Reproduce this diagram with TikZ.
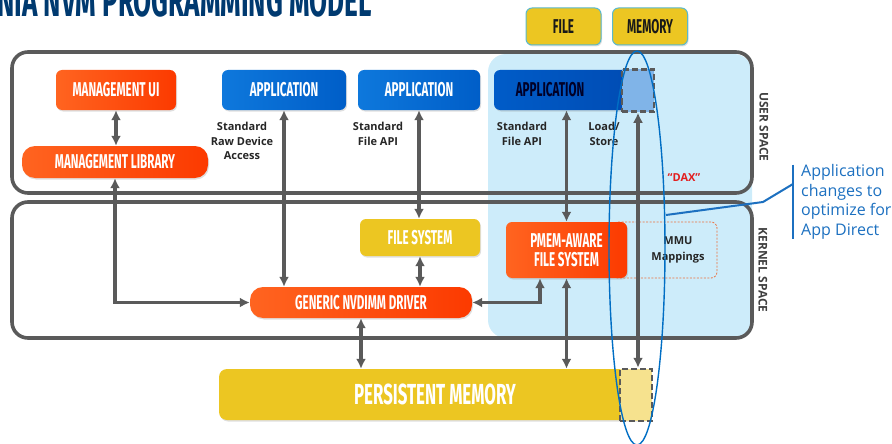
\documentclass[tikz,border=0pt]{standalone}
\usepackage{fontspec}
\setmainfont{Open Sans}
\newfontfamily\condfont[FakeStretch=0.58]{Fira Sans}
\usetikzlibrary{arrows.meta}
\usetikzlibrary{shadows}
\definecolor{linegray}{RGB}{90,90,90}
\definecolor{titleblue}{RGB}{0,58,112}
\definecolor{myorangeL}{RGB}{255,100,32}
\definecolor{myorangeR}{RGB}{252,58,0}
\definecolor{myblueL}{RGB}{14,120,220}
\definecolor{myblueR}{RGB}{0,94,200}
\definecolor{mydarkblueL}{RGB}{0,92,200}
\definecolor{mydarkblueR}{RGB}{0,76,180}
\definecolor{myyellow}{RGB}{236,198,34}
\definecolor{mylightyellow}{RGB}{246,226,142}
\definecolor{mylightblue}{RGB}{205,236,250}
\definecolor{mysquareblue}{RGB}{128,180,232}
\definecolor{myellipse}{RGB}{0,110,196}
\definecolor{mycallout}{RGB}{28,112,192}
\definecolor{mydaxred}{RGB}{226,30,30}
\definecolor{mymmuorange}{RGB}{236,112,62}
\definecolor{myteal}{RGB}{90,185,205}
\definecolor{mylabel}{RGB}{38,38,38}
\newcommand{\boxfont}{\condfont\bfseries\fontsize{20}{19}\selectfont}
\newcommand{\pmfont}{\condfont\bfseries\fontsize{29}{29}\selectfont}
\newcommand{\apifont}{\bfseries\fontsize{11}{14.5}\selectfont}
\tikzset{
    common/.style={inner sep=0pt, align=center, font=\boxfont, text=white,
        drop shadow={opacity=0.25, shadow xshift=1pt, shadow yshift=-1.5pt}},
    orangebox/.style={common, rounded corners=6pt, left color=myorangeL, right color=myorangeR},
    pill/.style={rounded corners=13pt},
    bluebox/.style={common, rounded corners=6pt, left color=myblueL, right color=myblueR,
        minimum width=124pt, minimum height=40pt},
    darkbluebox/.style={common, rounded corners=6pt, left color=mydarkblueL, right color=mydarkblueR,
        minimum height=40pt},
    apptext/.style={inner sep=0pt, font=\boxfont, text=black!85!blue},
    yellowbox/.style={common, rounded corners=6pt, fill=myyellow},
    tagbox/.style={common, rounded corners=6pt, fill=myyellow, draw=myteal, line width=1pt,
        text=black!90, minimum width=75pt, minimum height=37pt},
    dashsq/.style={draw=linegray, line width=2.5pt, dash pattern=on 6pt off 3pt, inner sep=0pt},
    mmubox/.style={draw=mymmuorange, line width=0.8pt, dash pattern=on 2pt off 1.5pt,
        rounded corners=6pt, inner sep=0pt},
    mmutext/.style={inner sep=0pt, align=center, font=\bfseries\fontsize{11}{16}\selectfont, text=mylabel},
    space/.style={draw=linegray, line width=3.6pt, rounded corners=16pt, inner sep=0pt},
    spacelabel/.style={rotate=-90, inner sep=0pt, font=\bfseries\fontsize{12}{12}\selectfont, text=black!75},
    apilabel/.style={inner sep=0pt, align=center, font=\apifont, text=mylabel},
    title/.style={anchor=base west, inner sep=0pt, font=\condfont\bfseries\fontsize{45}{45}\selectfont, text=titleblue},
    callout/.style={anchor=west, inner sep=0pt, align=left, font=\fontsize{16}{19.5}\selectfont, text=mycallout},
    conn/.style={draw=linegray, line width=3.2pt, >={Latex[length=10pt,width=10pt]}}
}

\begin{document}
\begin{tikzpicture}[x=1pt, y=-1pt]
    \path[use as bounding box, clip] (0,0) rectangle (892,444);

    \node[title] (title) at (-3,17) {NIA NVM PROGRAMMING MODEL};

    % app direct region
    \fill[mylightblue, rounded corners=18pt] (488,54) rectangle (752,338);

    \node[space, minimum width=740pt, minimum height=141pt] (user) at (382,122.5) {};
    \node[space, minimum width=740pt, minimum height=136pt] (kernel) at (382,270) {};
    \node[spacelabel] (userlbl) at (764,127) {USER SPACE};
    \node[spacelabel] (kernellbl) at (763,270) {KERNEL SPACE};

    \node[tagbox] (file) at (563.5,26.5) {FILE};
    \node[tagbox] (memory) at (650,26.5) {MEMORY};

    % user space
    \node[orangebox, minimum width=120pt, minimum height=40pt] (mui) at (116,90) {MANAGEMENT UI};
    \node[orangebox, pill, minimum width=186pt, minimum height=32pt] (mlib) at (115,162) {MANAGEMENT LIBRARY};
    \node[bluebox] (app1) at (284,90) {APPLICATION};
    \node[bluebox, minimum width=122pt] (app2) at (419,90) {APPLICATION};
    \node[darkbluebox, minimum width=136pt,
          label={[apptext, xshift=-12pt]center:APPLICATION}] (app3) at (562,90) {};
    \node[dashsq, fill=mysquareblue, minimum width=32pt, minimum height=42pt] (appsq) at (638,90.5) {};

    \node[apilabel] (rawlbl) at (242,141) {Standard\\Raw Device\\Access};
    \node[apilabel] (apilbl) at (378,134) {Standard\\File API};
    \node[apilabel] (pmapilbl) at (522,134) {Standard\\File API};
    \node[apilabel] (lslbl) at (604,134) {Load/\\Store};
    \node[apilabel, text=mydaxred] (dax) at (684,178) {“DAX”};

    % kernel space
    \node[yellowbox, minimum width=120pt, minimum height=37pt] (fs) at (420,237.5) {FILE SYSTEM};
    \node[orangebox, pill, minimum width=222pt, minimum height=31pt] (drv) at (361,302.5) {GENERIC NVDIMM DRIVER};
    \node[mmubox, minimum width=105pt, minimum height=56pt,
          label={[mmutext, xshift=13.5pt]center:{MMU\\Mappings}}] (mmu) at (664.5,250) {};
    \node[orangebox, minimum width=121pt, minimum height=56pt] (pmem) at (566.5,250) {PMEM-AWARE\\FILE SYSTEM};

    % hardware
    \node[yellowbox, rounded corners=8pt, minimum width=432pt, minimum height=51pt, font=\pmfont] (pm) at (435,394.5) {PERSISTENT MEMORY};
    \node[dashsq, fill=mylightyellow, minimum width=32pt, minimum height=52pt] (pmsq) at (636,395) {};

    \draw[conn, <->] (mui.south) -- (mui.south |- mlib.north);
    \draw[conn, <->] (mlib.south) |- (drv.west);
    \draw[conn, <->] (app1.south) -- (app1.south |- drv.north);
    \draw[conn, <->] (app2.south) -- (app2.south |- fs.north);
    \draw[conn, <->] (fs.south) -- (fs.south |- drv.north);
    \draw[conn, <->] (pmem.north |- app3.south) -- (pmem.north);
    \draw[conn, <->] ([xshift=-26.5pt]pmem.south) |- (drv.east);
    \draw[conn, <->] (drv.south) -- (drv.south |- pm.north);
    \draw[conn, <->] (pmem.south) -- (pmem.south |- pm.north);
    \draw[conn, <->] (appsq.south) -- (appsq.south |- pmsq.north);

    % app direct callout
    \draw[myellipse, line width=1.4pt] (637,248) ellipse [x radius=28, y radius=197];
    \node[callout] (callout) at (801,202) {Application\\changes to\\optimize for\\App Direct};
    \draw[mycallout, line width=2.6pt] ([xshift=-8pt]callout.north west) -- ([xshift=-8pt]callout.south west);
    \coordinate (brk) at (793,184);
    \coordinate (bend) at (763,202);
    \coordinate (hit) at (666,215);
    \draw[mycallout, line width=2pt] (brk) -- (bend) -- (hit);
\end{tikzpicture}
\end{document}
